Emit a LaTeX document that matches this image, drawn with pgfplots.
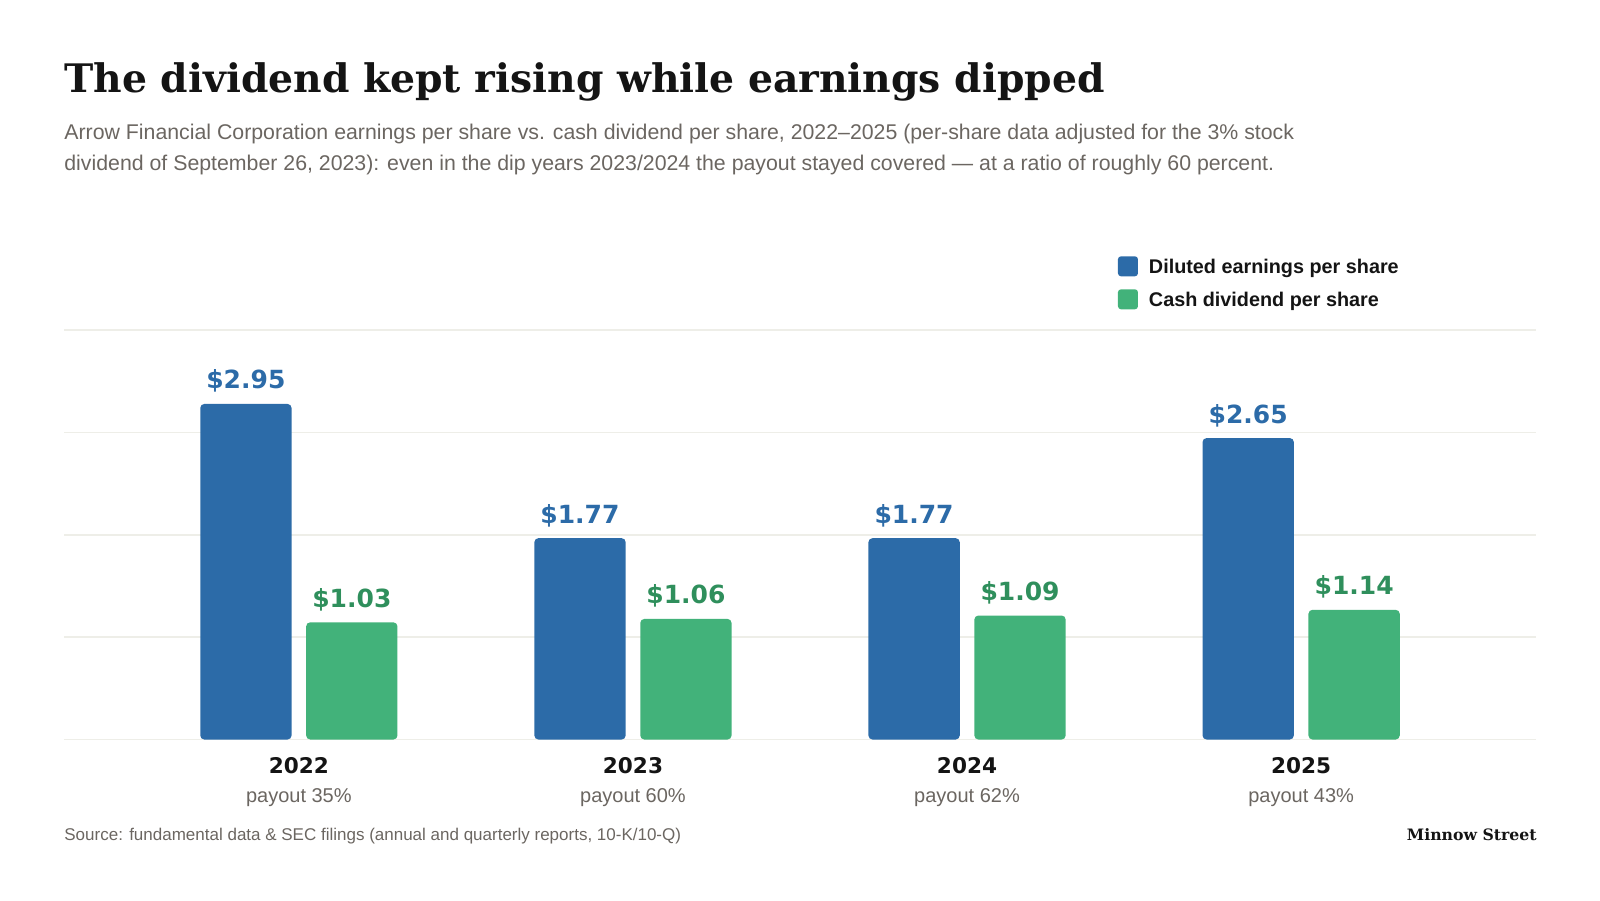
\documentclass[border=0pt]{standalone}
\usepackage{pgfplots}
\pgfplotsset{compat=1.18}
\usepackage{fontspec}
\setmainfont{Liberation Sans}
\newfontfamily\serifb{DejaVu Serif}
\newfontfamily\heavy{DejaVu Sans}
\definecolor{blueb}{HTML}{2C6BA8}
\definecolor{greenb}{HTML}{42B27A}
\definecolor{greenl}{HTML}{2F8F5C}
\definecolor{titlec}{HTML}{141414}
\definecolor{subc}{HTML}{6B6661}
\definecolor{gridc}{HTML}{EEEEE8}
\begin{document}
\begin{tikzpicture}[x=0.5pt,y=-0.5pt]
\path[use as bounding box] (0,0) rectangle (1600,900);
\node[anchor=base west, inner sep=0pt, font=\serifb\bfseries\fontsize{19.65}{22}\selectfont, text=titlec] at (64,92) {The dividend kept rising while earnings dipped};
\node[anchor=base west, inner sep=0pt, font=\fontsize{10.65}{12}\selectfont, text=subc] at (64,139) {Arrow Financial Corporation earnings per share vs. cash dividend per share, 2022--2025 (per-share data adjusted for the 3\% stock};
\node[anchor=base west, inner sep=0pt, font=\fontsize{10.65}{12}\selectfont, text=subc] at (64,170) {dividend of September 26, 2023): even in the dip years 2023/2024 the payout stayed covered — at a ratio of roughly 60 percent.};
\node[anchor=base west, inner sep=0pt, font=\fontsize{8.5}{10}\selectfont, text=subc] at (64,840) {Source: fundamental data \& SEC filings (annual and quarterly reports, 10-K/10-Q)};
\node[anchor=base east, inner sep=0pt, font=\serifb\bfseries\fontsize{7.85}{10}\selectfont, text=titlec] at (1537,840.5) {Minnow Street};
\begin{axis}[
  at={(32pt,-369.75pt)}, anchor=south west,
  scale only axis, width=736pt, height=204.75pt,
  xmin=-0.703, xmax=3.703, ymin=0, ymax=3.6,
  axis line style={draw=none}, major tick style={draw=none},
  ytick={0,0.9,1.8,2.7,3.6}, yticklabels={},
  ymajorgrids, grid style={color=gridc, line width=0.75pt},
  xtick={0,1,2,3}, xticklabels={2022,2023,2024,2025},
  xticklabel style={font=\heavy\bfseries\fontsize{10.8}{12}\selectfont, text=titlec, anchor=base, yshift=-17.1pt},
  extra x ticks={0,1,2,3},
  extra x tick labels={payout 35\%,payout 60\%,payout 62\%,payout 43\%},
  extra x tick style={xticklabel style={font=\fontsize{10}{11}\selectfont, text=subc, yshift=-14.2pt}},
  legend style={draw=none, fill=none, at={(axis description cs:0.716,1.18)}, anchor=north west, inner sep=0pt, outer sep=0pt, row sep=6.5pt, font=\bfseries\fontsize{9.9}{11}\selectfont, text=titlec, nodes={inner sep=0pt, text depth=0pt}},
  legend cell align=left,
  legend image code/.code={\fill[#1, draw=none, rounded corners=1.5pt] (0pt,-5pt) rectangle (10pt,5pt);\path (15.5pt,0pt);},
  /pgf/number format/assume math mode=true,
  nodes near coords style={font=\heavy\bfseries\fontsize{12.5}{13}\selectfont, anchor=base, yshift=7.5pt},
]
\addplot[ybar, bar width=0.2733, bar shift=-0.1585, fill=blueb, draw=none, rounded corners=2pt,
  nodes near coords={\$\pgfmathprintnumber[fixed,fixed zerofill,precision=2]{\pgfplotspointmeta}},
  every node near coord/.append style={text=blueb, xshift=-26.5pt}]
  coordinates {(0,2.95) (1,1.77) (2,1.77) (3,2.65)};
\addlegendentry{Diluted earnings per share}
\addplot[ybar, bar width=0.2733, bar shift=0.1585, fill=greenb, draw=none, rounded corners=2pt,
  nodes near coords={\$\pgfmathprintnumber[fixed,fixed zerofill,precision=2]{\pgfplotspointmeta}},
  every node near coord/.append style={text=greenl, xshift=26.5pt}]
  coordinates {(0,1.03) (1,1.06) (2,1.09) (3,1.14)};
\addlegendentry{Cash dividend per share}
\end{axis}
\end{tikzpicture}
\end{document}
